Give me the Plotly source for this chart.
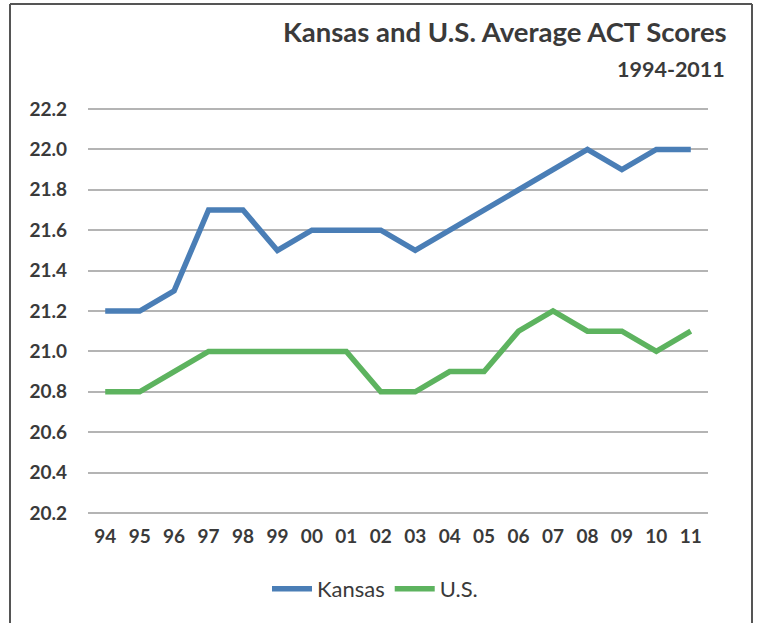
import plotly.graph_objects as go

years = ["94", "95", "96", "97", "98", "99", "00", "01", "02", "03",
         "04", "05", "06", "07", "08", "09", "10", "11"]
kansas = [21.2, 21.2, 21.3, 21.7, 21.7, 21.5, 21.6, 21.6, 21.6, 21.5,
          21.6, 21.7, 21.8, 21.9, 22.0, 21.9, 22.0, 22.0]
us = [20.8, 20.8, 20.9, 21.0, 21.0, 21.0, 21.0, 21.0, 20.8, 20.8,
      20.9, 20.9, 21.1, 21.2, 21.1, 21.1, 21.0, 21.1]
y_ticks = [20.2, 20.4, 20.6, 20.8, 21.0, 21.2, 21.4, 21.6, 21.8, 22.0, 22.2]

FONT = "Lato"
TXT = "#3a3a3a"

W, H = 758, 623
# plot area in screen pixels
L, R, T, B = 88, 708, 107, 515


def px(x):
    return (x - L) / (R - L)


def py(y):
    return (B - y) / (B - T)


fig = go.Figure()
fig.add_trace(go.Scatter(x=years, y=kansas, mode="lines", name="Kansas",
                         line=dict(color="#4a7eb6", width=5.5)))
fig.add_trace(go.Scatter(x=years, y=us, mode="lines", name="U.S.",
                         line=dict(color="#5db35f", width=5.5)))

fig.update_layout(
    width=W, height=H,
    margin=dict(l=L, r=W - R, t=T, b=H - B),
    paper_bgcolor="white", plot_bgcolor="white",
    font=dict(family=FONT, color=TXT),
    showlegend=True,
    legend=dict(orientation="h", xanchor="center", yanchor="middle",
                x=px(375), y=py(589), font=dict(size=22, family=FONT, color=TXT),
                itemwidth=40, tracegroupgap=0),
    xaxis=dict(type="category", range=[-0.5, 17.5], showgrid=False,
               showline=False, zeroline=False, ticks="",
               tickfont=dict(size=19, family=FONT, color=TXT, weight="bold"),
               ticklabelstandoff=8),
    yaxis=dict(range=[20.19, 22.21], tickvals=y_ticks,
               ticktext=[f"{v:.1f}" for v in y_ticks],
               showgrid=True, gridcolor="#b4b4b4", gridwidth=1.5,
               zeroline=False, showline=False, ticks="",
               tickfont=dict(size=19, family=FONT, color=TXT, weight="bold"),
               ticklabelstandoff=20),
    annotations=[
        dict(text="<b>Kansas and U.S. Average ACT Scores</b>", xref="paper", yref="paper",
             x=px(729), y=py(31), xanchor="right", yanchor="middle", showarrow=False,
             font=dict(size=27.5, family=FONT, color=TXT)),
        dict(text="<b>1994-2011</b>", xref="paper", yref="paper",
             x=px(727), y=py(69), xanchor="right", yanchor="middle", showarrow=False,
             font=dict(size=21.5, family=FONT, color=TXT)),
    ],
    shapes=[
        dict(type="line", xref="paper", yref="paper", x0=px(10), x1=px(10),
             y0=py(4), y1=py(640), line=dict(color="#555555", width=2)),
        dict(type="line", xref="paper", yref="paper", x0=px(10), x1=px(752),
             y0=py(4), y1=py(4), line=dict(color="#555555", width=2)),
        dict(type="line", xref="paper", yref="paper", x0=px(752), x1=px(752),
             y0=py(4), y1=py(640), line=dict(color="#555555", width=2)),
    ],
)

fig.write_html("out.html",
               config={"displayModeBar": False},
               post_script="document.body.style.margin='0';"
                           "document.body.style.overflow='hidden';")
